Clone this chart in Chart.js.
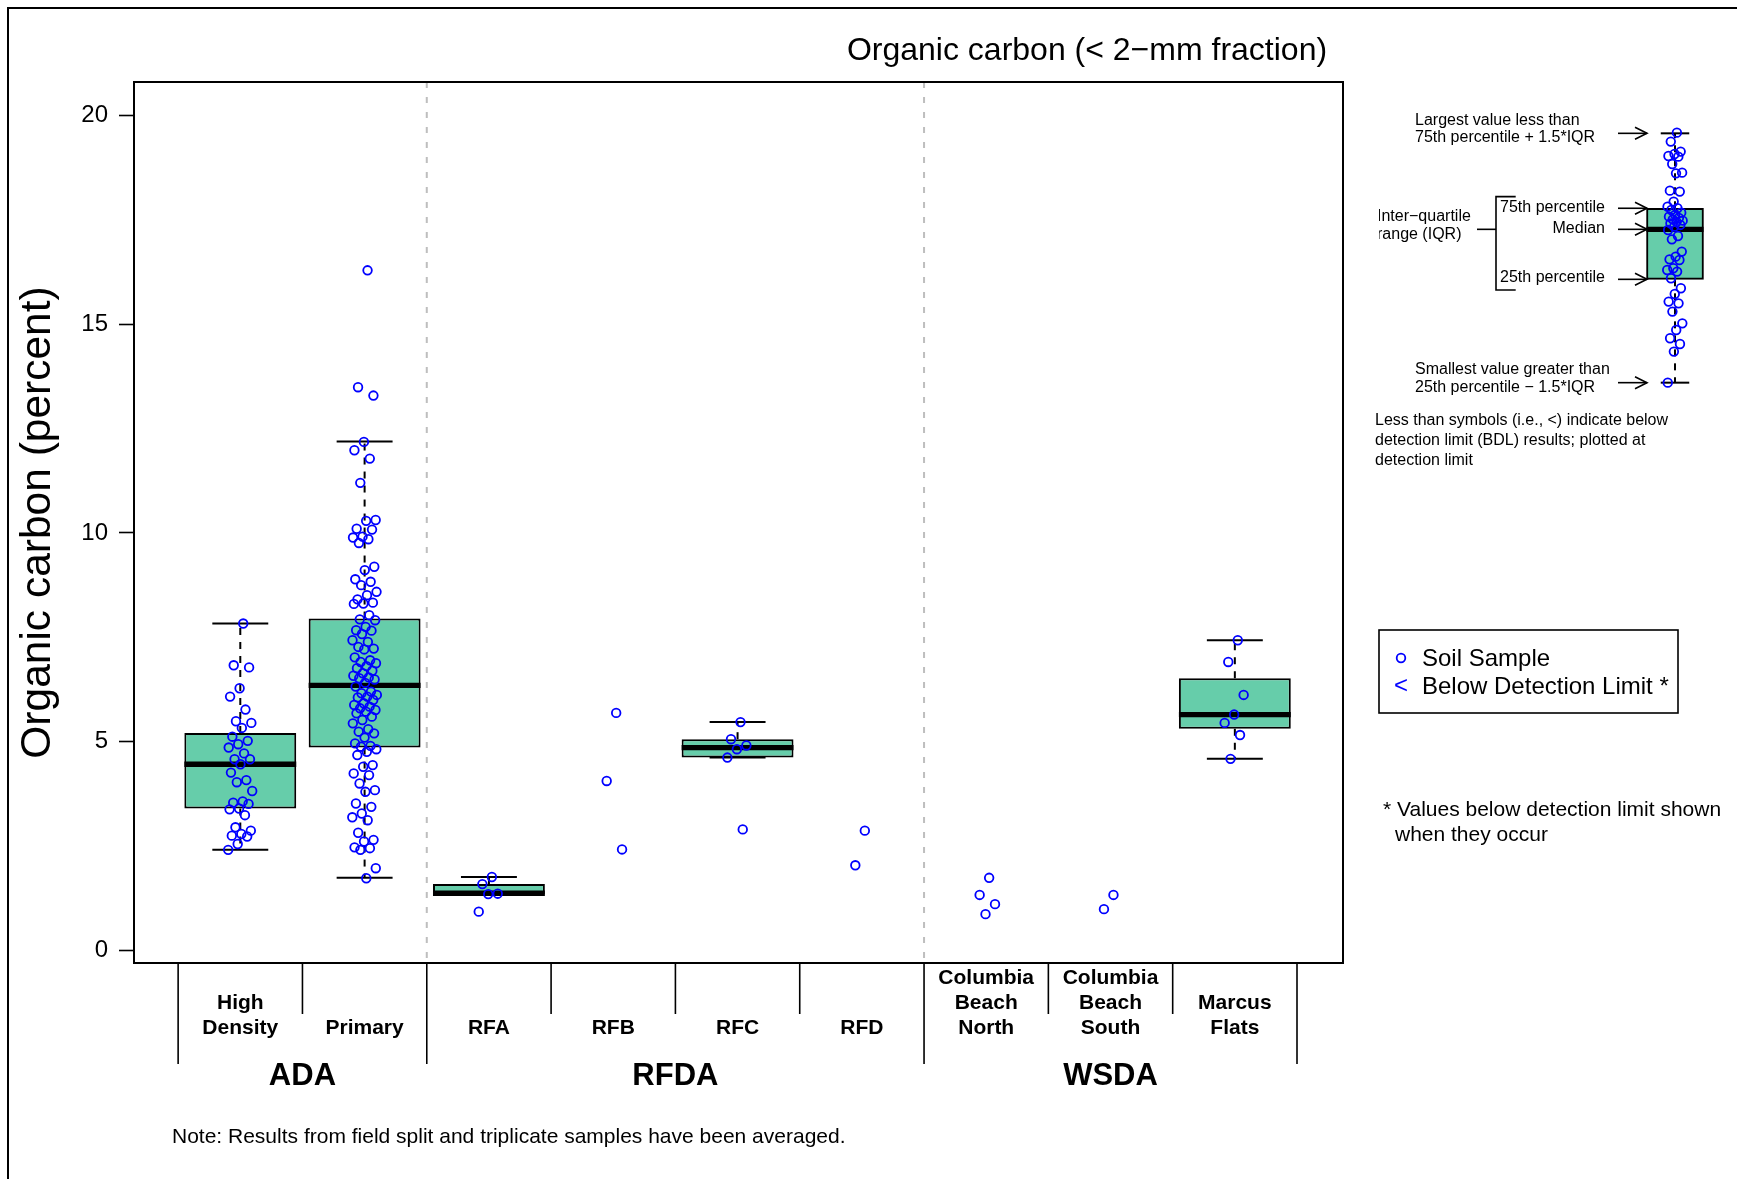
<!DOCTYPE html>
<html>
<head>
<meta charset="utf-8">
<title>Organic carbon (&lt; 2-mm fraction)</title>
<script src="https://cdn.jsdelivr.net/npm/chart.js@4.4.1/dist/chart.umd.min.js"></script>
<style>
  html, body { margin: 0; padding: 0; background: #fff; }
  #wrap { position: relative; width: 1737px; height: 1179px; overflow: hidden; background: #fff; }
  #main { position: absolute; left: 0; top: 0; }
  #key { position: absolute; left: 1370px; top: 90px; }
</style>
</head>
<body>
<div id="wrap">
  <canvas id="main" width="1737" height="1179"></canvas>
  <canvas id="key" width="367" height="400"></canvas>
</div>
<script>
// sites along the x axis, grouped by area
const siteLines = [['High', 'Density'], ['Primary'], ['RFA'], ['RFB'], ['RFC'], ['RFD'],
  ['Columbia', 'Beach', 'North'], ['Columbia', 'Beach', 'South'], ['Marcus', 'Flats']];
const areas = ['ADA', 'RFDA', 'WSDA'];
const areaSiteCounts = [2, 4, 3];
const yTicks = [0, 5, 10, 15, 20];

// organic carbon (percent) per sample
const highDensity = [7.83, 6.83, 6.78, 6.28, 6.08, 5.77, 5.49, 5.45, 5.33, 5.12, 5.02, 4.94, 4.86, 4.72,
  4.58, 4.58, 4.46, 4.26, 4.08, 4.03, 3.82, 3.57, 3.54, 3.51, 3.40, 3.38, 3.24, 2.95, 2.87, 2.79, 2.75,
  2.73, 2.55, 2.41];
const primary = [16.29, 13.49, 13.29, 12.18, 11.98, 11.78, 11.20, 10.31, 10.29, 10.10, 10.08, 9.91, 9.89,
  9.85, 9.76, 9.19, 9.11, 8.89, 8.83, 8.75, 8.59, 8.51, 8.41, 8.33, 8.31, 8.30, 8.03, 7.93, 7.91, 7.75,
  7.67, 7.66, 7.58, 7.43, 7.39, 7.27, 7.23, 7.21, 7.02, 6.95, 6.91, 6.88, 6.81, 6.76, 6.70, 6.64, 6.58,
  6.54, 6.52, 6.49, 6.41, 6.32, 6.20, 6.16, 6.12, 6.08, 6.06, 6.00, 5.92, 5.88, 5.84, 5.80, 5.76, 5.72,
  5.68, 5.60, 5.52, 5.44, 5.30, 5.24, 5.20, 5.10, 4.96, 4.90, 4.88, 4.82, 4.76, 4.68, 4.44, 4.40, 4.24,
  4.20, 4.00, 3.84, 3.80, 3.52, 3.44, 3.28, 3.19, 3.12, 2.82, 2.65, 2.61, 2.47, 2.45, 2.41, 1.97, 1.73];
const rfa = [1.76, 1.59, 1.36, 1.35, 0.93];
const rfb = [5.69, 4.06, 2.42];
const rfc = [5.47, 5.06, 4.91, 4.82, 4.62, 2.90];
const rfd = [2.87, 2.04];
const cbNorth = [1.74, 1.33, 1.11, 0.87];
const cbSouth = [1.33, 0.99];
const marcusFlats = [7.43, 6.91, 6.12, 5.65, 5.45, 5.16, 4.59];
const siteSamples = [highDensity, primary, rfa, rfb, rfc, rfd, cbNorth, cbSouth, marcusFlats];

// box statistics (null = too few samples for a box)
const whiskerLow  = [2.41, 1.74, 1.34, null, 4.62, null, null, null, 4.59];
const quart1      = [3.40, 4.86, 1.34, null, 4.62, null, null, null, 5.31];
const medians     = [4.46, 6.35, 1.37, null, 4.86, null, null, null, 5.65];
const quart3      = [5.21, 7.95, 1.59, null, 5.06, null, null, null, 6.52];
const whiskerHigh = [7.83, 12.19, 1.76, null, 5.47, null, null, null, 7.43];

// example box for the key: low whisker, q1, median, q3, high whisker
const keyBox = [0.55, 8.3, 12.05, 13.63, 19.25];
const keySamples = [19.3, 18.63, 17.88, 17.7, 17.55, 17.5, 16.95, 16.3, 16.25, 14.95, 14.88, 14.13, 13.75,
  13.63, 13.5, 13.3, 13.13, 13.0, 12.9, 12.8, 12.7, 12.6, 12.5, 12.38, 12.25, 12.0, 11.55, 11.3, 10.38,
  10.0, 9.8, 9.75, 9.13, 9.0, 8.88, 8.38, 7.63, 7.2, 6.63, 6.5, 5.88, 5.0, 4.5, 3.88, 3.45, 2.88, 0.55];

const FONT = "'Liberation Sans', Arial, Helvetica, sans-serif";
Chart.defaults.font.family = FONT;
Chart.defaults.color = '#000';

const BOX_FILL = '#66cdaa';
const POINT_BLUE = '#0000ff';

// small horizontal scatter so overlapping samples stay visible
function spread(j, amp) {
  const f = ((j + 1) * 0.6180339887) % 1;
  return (f - 0.5) * 2 * amp;
}

function line(ctx, x1, y1, x2, y2) {
  ctx.beginPath();
  ctx.moveTo(x1, y1);
  ctx.lineTo(x2, y2);
  ctx.stroke();
}

function arrow(ctx, x1, x2, y) {
  ctx.save();
  ctx.strokeStyle = '#000';
  ctx.lineWidth = 1.6;
  line(ctx, x1, y, x2, y);
  ctx.beginPath();
  ctx.moveTo(x2 - 12, y - 6);
  ctx.lineTo(x2, y);
  ctx.lineTo(x2 - 12, y + 6);
  ctx.stroke();
  ctx.restore();
}

// whiskers, staples and median bar for one box element
function drawBoxParts(ctx, ys, el, lo, q1v, med, q3v, hi) {
  const x = el.x, w = el.width;
  const yLo = ys.getPixelForValue(lo), yHi = ys.getPixelForValue(hi);
  const yQ1 = ys.getPixelForValue(q1v), yQ3 = ys.getPixelForValue(q3v);
  ctx.save();
  ctx.strokeStyle = '#000';
  ctx.lineWidth = 2;
  ctx.setLineDash([7, 7]);
  if (yHi < yQ3 - 1) line(ctx, x, yQ3, x, yHi);
  if (yLo > yQ1 + 1) line(ctx, x, yQ1, x, yLo);
  ctx.setLineDash([]);
  line(ctx, x - w / 4, yHi, x + w / 4, yHi);
  line(ctx, x - w / 4, yLo, x + w / 4, yLo);
  ctx.lineWidth = 5.3;
  const yMed = ys.getPixelForValue(med);
  line(ctx, x - w / 2, yMed, x + w / 2, yMed);
  ctx.restore();
}

const pointData = [];
siteSamples.forEach((vals, i) => {
  vals.forEach((v, j) => pointData.push({ x: i + 1 + spread(j, 0.1), y: v }));
});

const boxData = [];
quart1.forEach((v, i) => {
  if (v !== null) boxData.push({ x: i + 1, y: [v, quart3[i]], site: i });
});

const mainDecor = {
  id: 'mainDecor',
  beforeDatasetsDraw(chart) {
    const { ctx, chartArea: a, scales: { x } } = chart;
    ctx.save();
    // dashed area dividers inside the plot
    ctx.strokeStyle = '#bebebe';
    ctx.lineWidth = 2;
    ctx.setLineDash([6, 9]);
    let edge = 0.5;
    areaSiteCounts.slice(0, -1).forEach(n => {
      edge += n;
      const px = x.getPixelForValue(edge);
      line(ctx, px, a.top, px, a.bottom);
    });
    ctx.restore();
  },
  afterDatasetDraw(chart, args) {
    if (args.meta.type !== 'bar') return;
    const ys = chart.scales.y;
    args.meta.data.forEach((el, k) => {
      const i = chart.data.datasets[args.index].data[k].site;
      drawBoxParts(chart.ctx, ys, el, whiskerLow[i], quart1[i], medians[i], quart3[i], whiskerHigh[i]);
    });
  },
  afterDraw(chart) {
    const { ctx, chartArea: a, scales: { x } } = chart;
    ctx.save();
    ctx.strokeStyle = '#000';
    ctx.lineWidth = 2;
    ctx.strokeRect(a.left, a.top, a.right - a.left, a.bottom - a.top);
    // page frame
    ctx.strokeRect(8, 8, chart.width + 20, chart.height + 20);

    // heading
    ctx.fillStyle = '#000';
    ctx.textAlign = 'center';
    ctx.textBaseline = 'middle';
    ctx.font = '32px ' + FONT;
    ctx.fillText('Organic carbon (< 2\u2212mm fraction)', 1087, 51);

    // site separators below the axis and area names
    ctx.lineWidth = 1.6;
    let start = 0.5;
    const isEdge = new Set([0.5]);
    areaSiteCounts.forEach(n => { start += n; isEdge.add(start); });
    for (let k = 0; k <= siteLines.length; k++) {
      const v = k + 0.5;
      const px = x.getPixelForValue(v);
      line(ctx, px, a.bottom, px, isEdge.has(v) ? 1064 : 1014);
    }
    ctx.font = 'bold 31px ' + FONT;
    start = 0.5;
    areas.forEach((name, g) => {
      const mid = start + areaSiteCounts[g] / 2;
      ctx.fillText(name, x.getPixelForValue(mid), 1076);
      start += areaSiteCounts[g];
    });

    ctx.textAlign = 'left';
    ctx.font = '21px ' + FONT;
    ctx.fillText('Note: Results from field split and triplicate samples have been averaged.', 172, 1137);

    // legend
    ctx.lineWidth = 1.6;
    ctx.strokeRect(1379, 630, 299, 83);
    ctx.strokeStyle = POINT_BLUE;
    ctx.lineWidth = 1.8;
    ctx.beginPath();
    ctx.arc(1401, 658, 4.3, 0, Math.PI * 2);
    ctx.stroke();
    ctx.font = '24px ' + FONT;
    ctx.fillStyle = POINT_BLUE;
    ctx.textAlign = 'center';
    ctx.fillText('<', 1401, 686);
    ctx.fillStyle = '#000';
    ctx.textAlign = 'left';
    ctx.fillText('Soil Sample', 1422, 659);
    ctx.fillText('Below Detection Limit *', 1422, 687);

    ctx.font = '21px ' + FONT;
    ctx.fillText('* Values below detection limit shown', 1383, 810);
    ctx.fillText('when they occur', 1395, 835);
    ctx.restore();
  }
};

new Chart(document.getElementById('main'), {
  type: 'bar',
  data: {
    datasets: [
      {
        type: 'scatter',
        data: pointData,
        order: 0,
        pointStyle: 'circle',
        pointRadius: 4.3,
        pointHoverRadius: 4.3,
        borderColor: POINT_BLUE,
        backgroundColor: 'rgba(0,0,0,0)',
        borderWidth: 1.8
      },
      {
        type: 'bar',
        data: boxData,
        order: 1,
        backgroundColor: BOX_FILL,
        borderColor: '#000',
        borderWidth: 2,
        borderSkipped: false,
        categoryPercentage: 1,
        barPercentage: 0.9
      }
    ]
  },
  options: {
    responsive: false,
    animation: false,
    devicePixelRatio: 1,
    layout: { padding: { left: 0, top: 82, right: 394, bottom: 0 } },
    plugins: { legend: { display: false }, tooltip: { enabled: false } },
    scales: {
      x: {
        type: 'linear',
        position: 'bottom',
        offset: false,
        min: 0.145,
        max: 9.87,
        afterBuildTicks: s => { s.ticks = siteLines.map((_, i) => ({ value: i + 1 })); },
        afterFit: s => { s.height = 216; },
        grid: { display: false },
        border: { display: false },
        ticks: {
          autoSkip: false,
          maxRotation: 0,
          minRotation: 0,
          padding: -5,
          color: '#000',
          font: { size: 21, weight: 'bold', lineHeight: 25 / 21 },
          callback: v => {
            const lines = siteLines[Math.round(v) - 1];
            return new Array(3 - lines.length).fill('').concat(lines);
          }
        }
      },
      y: {
        type: 'linear',
        min: -0.3,
        max: 20.8,
        afterBuildTicks: s => { s.ticks = yTicks.map(v => ({ value: v })); },
        afterFit: s => { s.width = 134; },
        grid: { drawOnChartArea: false, drawTicks: true, tickLength: 15, tickColor: '#000', tickWidth: 1.6 },
        border: { display: true, color: '#000', width: 2 },
        ticks: { padding: 11, color: '#000', font: { size: 24 } },
        title: {
          display: true,
          text: 'Organic carbon (percent)',
          color: '#000',
          font: { size: 42.5 },
          padding: { top: 13, bottom: 0 }
        }
      }
    }
  },
  plugins: [mainDecor]
});

// key: how to read a box
const keyDecor = {
  id: 'keyDecor',
  afterDatasetDraw(chart, args) {
    if (args.meta.type !== 'bar') return;
    const el = args.meta.data[0];
    drawBoxParts(chart.ctx, chart.scales.y, el, keyBox[0], keyBox[1], keyBox[2], keyBox[3], keyBox[4]);
  },
  afterDraw(chart) {
    const { ctx, scales: { y } } = chart;
    const yLo = y.getPixelForValue(keyBox[0]);
    const yQ1 = y.getPixelForValue(keyBox[1]);
    const yMed = y.getPixelForValue(keyBox[2]);
    const yQ3 = y.getPixelForValue(keyBox[3]);
    const yHi = y.getPixelForValue(keyBox[4]);
    ctx.save();
    ctx.fillStyle = '#000';
    ctx.strokeStyle = '#000';
    ctx.font = '16px ' + FONT;
    ctx.textBaseline = 'middle';
    ctx.textAlign = 'left';
    ctx.fillText('Largest value less than', 45, yHi - 12.6);
    ctx.fillText('75th percentile + 1.5*IQR', 45, yHi + 4.4);
    ctx.fillText('Smallest value greater than', 45, yLo - 12.7);
    ctx.fillText('25th percentile \u2212 1.5*IQR', 45, yLo + 5);
    arrow(ctx, 248, 277, yHi);
    arrow(ctx, 248, 277, yLo);

    ctx.textAlign = 'right';
    ctx.fillText('75th percentile', 235, yQ3 - 0.6);
    ctx.fillText('Median', 235, yMed - 1);
    ctx.fillText('25th percentile', 235, yQ1 - 1.6);
    arrow(ctx, 248, 277, yQ3);
    arrow(ctx, 248, 277, yMed);
    arrow(ctx, 248, 277, yQ1);

    // bracket around the inter-quartile labels
    ctx.lineWidth = 1.6;
    ctx.beginPath();
    ctx.moveTo(145.7, yQ3 - 11.6);
    ctx.lineTo(126, yQ3 - 11.6);
    ctx.lineTo(126, yQ1 + 10.7);
    ctx.lineTo(145.7, yQ1 + 10.7);
    ctx.stroke();
    line(ctx, 107, yMed, 126, yMed);

    ctx.save();
    ctx.beginPath();
    ctx.rect(9, 0, chart.width, chart.height);
    ctx.clip();
    ctx.textAlign = 'left';
    ctx.fillText('Inter\u2212quartile', 7, yMed - 12.6);
    ctx.fillText('range (IQR)', 7, yMed + 5.7);
    ctx.restore();

    ctx.textAlign = 'left';
    ctx.fillText('Less than symbols (i.e., <) indicate below', 5, 331);
    ctx.fillText('detection limit (BDL) results; plotted at', 5, 351);
    ctx.fillText('detection limit', 5, 370.7);
    ctx.restore();
  }
};

new Chart(document.getElementById('key'), {
  type: 'bar',
  data: {
    datasets: [
      {
        type: 'scatter',
        data: keySamples.map((v, j) => ({ x: 1 + spread(j, 0.2), y: v })),
        order: 0,
        pointStyle: 'circle',
        pointRadius: 4.3,
        pointHoverRadius: 4.3,
        borderColor: POINT_BLUE,
        backgroundColor: 'rgba(0,0,0,0)',
        borderWidth: 1.8
      },
      {
        type: 'bar',
        data: [{ x: 1, y: [keyBox[1], keyBox[3]] }],
        order: 1,
        backgroundColor: BOX_FILL,
        borderColor: '#000',
        borderWidth: 2,
        borderSkipped: false,
        barThickness: 57
      }
    ]
  },
  options: {
    responsive: false,
    animation: false,
    devicePixelRatio: 1,
    layout: { padding: { left: 265, right: 22, top: 10, bottom: 80 } },
    plugins: { legend: { display: false }, tooltip: { enabled: false } },
    scales: {
      x: { type: 'linear', min: 0, max: 2, display: false, offset: false },
      y: { type: 'linear', min: -1.5, max: 21.75, display: false }
    }
  },
  plugins: [keyDecor]
});
</script>
</body>
</html>
